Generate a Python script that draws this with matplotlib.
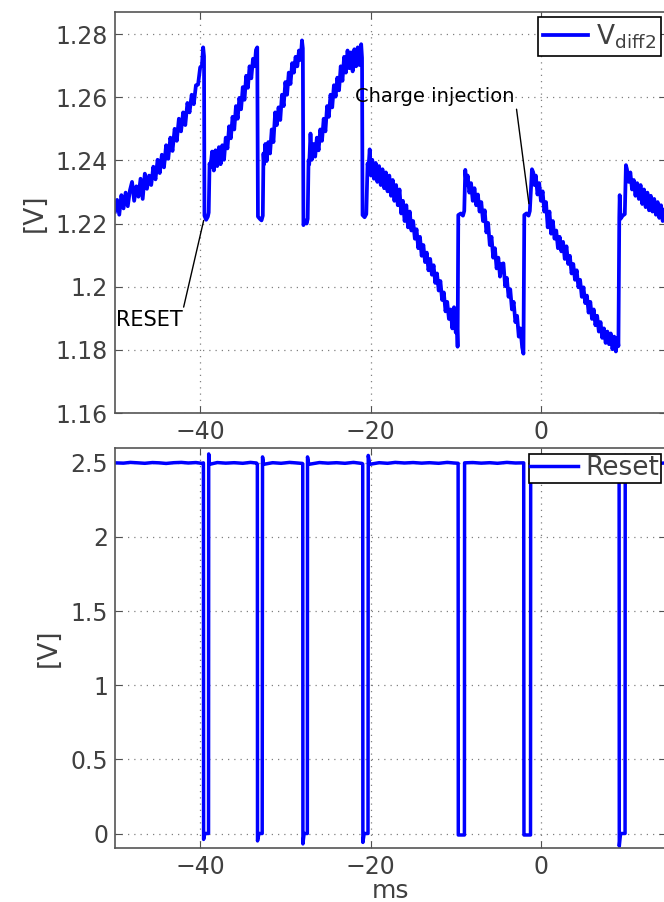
import numpy as np
import matplotlib
matplotlib.use('Agg')
import matplotlib.pyplot as plt
from matplotlib.ticker import FormatStrFormatter, MultipleLocator

# V_diff2 trace (time in ms, value in V)
seg1_t = [-50.0, -49.75, -49.5, -49.25, -49.0, -48.75, -48.5, -48.25, -48.0, -47.75,
          -47.5, -47.25, -47.0, -46.75, -46.5, -46.25, -46.0, -45.75, -45.5, -45.25,
          -45.0, -44.75, -44.5, -44.25, -44.0, -43.75, -43.5, -43.25, -43.0, -42.75,
          -42.5, -42.25, -42.0, -41.75, -41.5, -41.25, -41.0, -40.75, -40.5, -40.25,
          -40.0, -39.8, -39.65, -39.55,
          -39.5, -39.3, -39.1, -39.0]
seg1_v = [1.2238, 1.2275, 1.2228, 1.2290, 1.2248, 1.2298, 1.2255, 1.2305, 1.2332, 1.2272,
          1.2318, 1.2285, 1.2342, 1.2278, 1.2358, 1.2310, 1.2352, 1.2322, 1.2380, 1.2340,
          1.2402, 1.2360, 1.2418, 1.2378, 1.2448, 1.2405, 1.2472, 1.2430, 1.2500, 1.2462,
          1.2532, 1.2492, 1.2552, 1.2512, 1.2582, 1.2552, 1.2608, 1.2578, 1.2638, 1.2640,
          1.2695, 1.2700, 1.2758, 1.2730,
          1.2225, 1.2212, 1.2222, 1.2235]

seg2_t = [-38.9, -38.8, -38.6, -38.4, -38.2, -38.0, -37.8, -37.6, -37.4, -37.2,
          -37.0, -36.8, -36.6, -36.4, -36.2, -36.0, -35.8, -35.6, -35.4, -35.2,
          -35.0, -34.8, -34.6, -34.4, -34.2, -34.0, -33.8, -33.6, -33.45, -33.3,
          -33.22, -33.0, -32.8, -32.65]
seg2_v = [1.2390, 1.2378, 1.2428, 1.2368, 1.2432, 1.2382, 1.2442, 1.2388, 1.2448, 1.2402,
          1.2472, 1.2438, 1.2508, 1.2470, 1.2538, 1.2498, 1.2572, 1.2532, 1.2598, 1.2562,
          1.2632, 1.2592, 1.2668, 1.2630, 1.2698, 1.2660, 1.2722, 1.2698, 1.2750, 1.2758,
          1.2222, 1.2215, 1.2210, 1.2225]

seg3_t = [-32.57, -32.5, -32.35, -32.2, -32.0, -31.8, -31.6, -31.4, -31.2, -31.0,
          -30.8, -30.6, -30.4, -30.2, -30.0, -29.8, -29.6, -29.4, -29.2, -29.0,
          -28.8, -28.6, -28.4, -28.2, -28.05, -27.95,
          -27.88, -27.7, -27.5, -27.38]
seg3_v = [1.2422, 1.2388, 1.2452, 1.2398, 1.2458, 1.2422, 1.2498, 1.2458, 1.2552, 1.2512,
          1.2568, 1.2528, 1.2608, 1.2572, 1.2648, 1.2608, 1.2678, 1.2642, 1.2708, 1.2678,
          1.2728, 1.2698, 1.2748, 1.2718, 1.2780, 1.2755,
          1.2195, 1.2210, 1.2200, 1.2215]

seg4_t = [-27.28, -27.2, -27.05, -26.9, -26.7, -26.5, -26.3, -26.1, -25.9, -25.7,
          -25.5, -25.3, -25.1, -24.9, -24.7, -24.5, -24.3, -24.1, -23.9, -23.7,
          -23.5, -23.3, -23.1, -22.9, -22.7, -22.5, -22.3, -22.1, -21.9, -21.7,
          -21.5, -21.3, -21.1, -21.0,
          -20.94, -20.7, -20.5]
seg4_v = [1.2400, 1.2388, 1.2485, 1.2402, 1.2452, 1.2412, 1.2472, 1.2432, 1.2498, 1.2462,
          1.2532, 1.2492, 1.2572, 1.2538, 1.2608, 1.2568, 1.2638, 1.2602, 1.2662, 1.2622,
          1.2698, 1.2652, 1.2728, 1.2678, 1.2748, 1.2692, 1.2742, 1.2682, 1.2752, 1.2698,
          1.2758, 1.2702, 1.2768, 1.2725,
          1.2227, 1.2220, 1.2230]

seg5_t = [-20.35, -20.25, -20.1, -19.95, -19.8, -19.6, -19.4, -19.2, -19.0, -18.8,
          -18.6, -18.4, -18.2, -18.0, -17.8, -17.6, -17.4, -17.2, -17.0, -16.8,
          -16.6, -16.4, -16.2, -16.0, -15.8, -15.6, -15.4, -15.2, -15.0, -14.8,
          -14.6, -14.4, -14.2, -14.0, -13.8, -13.6, -13.4, -13.2, -13.0, -12.8,
          -12.6, -12.4, -12.2, -12.0, -11.8, -11.6, -11.4, -11.2, -11.0, -10.8,
          -10.6, -10.4, -10.2, -10.0, -9.85, -9.78,
          -9.7, -9.4, -9.15, -9.0]
seg5_v = [1.2390, 1.2372, 1.2435, 1.2352, 1.2402, 1.2342, 1.2392, 1.2332, 1.2382, 1.2322,
          1.2372, 1.2312, 1.2362, 1.2302, 1.2352, 1.2288, 1.2338, 1.2272, 1.2322, 1.2258,
          1.2308, 1.2232, 1.2272, 1.2208, 1.2258, 1.2188, 1.2238, 1.2178, 1.2208, 1.2152,
          1.2182, 1.2122, 1.2158, 1.2098, 1.2132, 1.2078, 1.2108, 1.2052, 1.2088, 1.2038,
          1.2068, 1.2012, 1.2042, 1.1988, 1.2018, 1.1958, 1.1982, 1.1922, 1.1952, 1.1898,
          1.1928, 1.1868, 1.1935, 1.1855, 1.1880, 1.1810,
          1.2227, 1.2232, 1.2225, 1.2240]

seg6_t = [-8.88, -8.75, -8.6, -8.4, -8.2, -8.0, -7.8, -7.6, -7.4, -7.2,
          -7.0, -6.8, -6.6, -6.4, -6.2, -6.0, -5.8, -5.6, -5.4, -5.2,
          -5.0, -4.8, -4.6, -4.4, -4.2, -4.0, -3.8, -3.6, -3.4, -3.2,
          -3.0, -2.8, -2.6, -2.4, -2.2, -2.05,
          -1.95, -1.7, -1.45, -1.3]
seg6_v = [1.2370, 1.2322, 1.2352, 1.2298, 1.2328, 1.2272, 1.2312, 1.2258, 1.2292, 1.2238,
          1.2268, 1.2208, 1.2242, 1.2172, 1.2202, 1.2132, 1.2158, 1.2092, 1.2122, 1.2058,
          1.2092, 1.2032, 1.2072, 1.2074, 1.2002, 1.2028, 1.1968, 1.1992, 1.1928, 1.1952,
          1.1888, 1.1908, 1.1842, 1.1868, 1.1808, 1.1788,
          1.2227, 1.2232, 1.2225, 1.2240]

seg7_t = [-1.05, -0.9, -0.75, -0.6, -0.4, -0.2, 0.0, 0.2, 0.4, 0.6,
          0.8, 1.0, 1.2, 1.4, 1.6, 1.8, 2.0, 2.2, 2.4, 2.6,
          2.8, 3.0, 3.2, 3.4, 3.6, 3.8, 4.0, 4.2, 4.4, 4.6,
          4.8, 5.0, 5.2, 5.4, 5.6, 5.8, 6.0, 6.2, 6.4, 6.6,
          6.8, 7.0, 7.2, 7.4, 7.6, 7.8, 8.0, 8.2, 8.4, 8.6,
          8.8, 9.0, 9.1,
          9.2, 9.25, 9.35, 9.6, 9.85]
seg7_v = [1.2372, 1.2362, 1.2322, 1.2352, 1.2292, 1.2328, 1.2272, 1.2302, 1.2238, 1.2268,
          1.2188, 1.2238, 1.2168, 1.2208, 1.2152, 1.2178, 1.2122, 1.2158, 1.2112, 1.2142,
          1.2088, 1.2128, 1.2072, 1.2098, 1.2042, 1.2072, 1.2022, 1.2052, 1.1998, 1.2022,
          1.1968, 1.1998, 1.1948, 1.1972, 1.1918, 1.1952, 1.1898, 1.1928, 1.1878, 1.1908,
          1.1858, 1.1888, 1.1838, 1.1868, 1.1822, 1.1858, 1.1818, 1.1852, 1.1802, 1.1842,
          1.1795, 1.1838, 1.1812,
          1.2220, 1.2290, 1.2215, 1.2225, 1.2230]

seg8_t = [9.98, 10.1, 10.3, 10.5, 10.7, 10.9, 11.1, 11.3, 11.5, 11.7,
          11.9, 12.1, 12.3, 12.5, 12.7, 12.9, 13.1, 13.3, 13.5, 13.7,
          13.9, 14.1, 14.3, 14.5, 14.8]
seg8_v = [1.2385, 1.2372, 1.2332, 1.2362, 1.2308, 1.2338, 1.2288, 1.2328, 1.2278, 1.2322,
          1.2262, 1.2308, 1.2252, 1.2298, 1.2242, 1.2288, 1.2238, 1.2278, 1.2228, 1.2268,
          1.2218, 1.2258, 1.2208, 1.2245, 1.2225]

# Reset signal (ms, V)
reset_t = [-50.0, -49.0, -48.2, -47.3, -46.5, -45.6, -44.8, -44.0, -43.1, -42.2,
           -41.4, -40.5, -39.75, -39.62,
           -39.6, -39.45, -39.1, -39.02, -39.0, -38.9,
           -38.0, -37.0, -36.0, -35.0, -34.1, -33.4, -33.29,
           -33.27, -33.1, -32.72, -32.68, -32.55,
           -31.5, -30.5, -29.5, -28.6, -28.0, -27.96,
           -27.94, -27.8, -27.42, -27.4, -27.25,
           -26.0, -25.0, -24.0, -23.0, -22.0, -21.0, -20.92,
           -20.9, -20.75, -20.3, -20.27, -20.1,
           -19.0, -18.0, -17.1, -16.0, -15.0, -14.0, -13.1, -12.0, -11.0, -10.2, -9.72,
           -9.7, -9.5, -8.98, -8.96,
           -8.0, -7.0, -6.0, -5.1, -4.0, -3.0, -2.02,
           -1.99, -1.8, -1.22, -1.2,
           -0.5, 0.5, 1.5, 2.5, 3.5, 4.5, 5.5, 6.5, 7.5, 8.5, 9.18,
           9.2, 9.35, 9.88, 9.9, 10.0,
           11.0, 12.0, 13.0, 14.0, 14.8]
reset_v = [2.500, 2.498, 2.503, 2.500, 2.497, 2.502, 2.500, 2.496, 2.501, 2.503,
           2.499, 2.502, 2.496, 2.500,
           -0.04, 0.00, 0.00, 0.00, 2.56, 2.49,
           2.502, 2.498, 2.501, 2.497, 2.503, 2.499, 2.492,
           -0.05, 0.00, 0.00, 2.54, 2.49,
           2.501, 2.497, 2.503, 2.499, 2.496, 2.492,
           -0.07, 0.00, 0.00, 2.54, 2.49,
           2.502, 2.498, 2.501, 2.497, 2.503, 2.496, 2.492,
           -0.06, 0.00, 0.00, 2.55, 2.49,
           2.501, 2.497, 2.503, 2.499, 2.502, 2.498, 2.501, 2.497, 2.503, 2.499, 2.497,
           -0.01, -0.01, -0.01, 2.50,
           2.502, 2.498, 2.501, 2.497, 2.503, 2.499, 2.500,
           -0.01, -0.01, -0.01, 2.50,
           2.502, 2.498, 2.501, 2.497, 2.503, 2.499, 2.501, 2.497, 2.502, 2.498, 2.500,
           -0.085, 0.00, 0.00, 2.55, 2.49,
           2.502, 2.498, 2.501, 2.497, 2.500]

vdiff_t = np.concatenate([seg1_t, seg2_t, seg3_t, seg4_t, seg5_t, seg6_t, seg7_t, seg8_t])
vdiff_v = np.concatenate([seg1_v, seg2_v, seg3_v, seg4_v, seg5_v, seg6_v, seg7_v, seg8_v])

TXT = '#404040'
plt.rcParams['font.family'] = 'DejaVu Sans'
plt.rcParams['mathtext.default'] = 'regular'

fig = plt.figure(figsize=(6.64, 9.02), dpi=100)
ax1 = fig.add_axes([0.1732, 0.5421, 0.830, 0.4446])
ax2 = fig.add_axes([0.1732, 0.0595, 0.830, 0.4438])

ax1.plot(vdiff_t, vdiff_v, color='blue', lw=2.7, label=r'V$_{diff2}$')
ax2.plot(reset_t, reset_v, color='blue', lw=2.5, label='Reset')

ax1.set_ylim(1.16, 1.287)
ax2.set_ylim(-0.1, 2.6)
ax1.yaxis.set_major_locator(MultipleLocator(0.02))
ax2.yaxis.set_major_locator(MultipleLocator(0.5))

for ax in (ax1, ax2):
    ax.set_xlim(-50, 14.7)
    ax.xaxis.set_major_locator(MultipleLocator(20))
    ax.yaxis.set_major_formatter(FormatStrFormatter('%g'))
    ax.grid(True, linestyle=(0, (1, 4)), color='#808080', linewidth=0.9)
    ax.tick_params(direction='in', length=5, width=0.8, labelsize=17,
                   colors='#505050', labelcolor=TXT, top=True, right=True, pad=5)
    for s in ax.spines.values():
        s.set_color('#555555')
        s.set_linewidth(1.2)
    ax.set_ylabel('[V]', fontsize=19, color=TXT, labelpad=6)

ax2.set_xlabel('ms', fontsize=18, color=TXT, labelpad=0)

leg1 = ax1.legend(loc='upper right', bbox_to_anchor=(0.9955, 0.9812),
                  bbox_transform=fig.transFigure, fontsize=19, fancybox=False,
                  edgecolor='black', handlelength=1.7, borderpad=0.2,
                  handletextpad=0.3, borderaxespad=0)
leg2 = ax2.legend(loc='upper right', bbox_to_anchor=(0.9955, 0.4967),
                  bbox_transform=fig.transFigure, fontsize=19, fancybox=False,
                  edgecolor='black', handlelength=1.8, borderpad=0.05,
                  handletextpad=0.3, borderaxespad=0)
for leg in (leg1, leg2):
    leg.get_frame().set_linewidth(1.2)
    leg.get_frame().set_alpha(1)
    for t in leg.get_texts():
        t.set_color(TXT)

ax1.annotate('RESET', xy=(-39.59, 1.2210), xytext=(-42.1, 1.1895),
             fontsize=15, ha='right', va='center', color='black',
             arrowprops=dict(arrowstyle='-', color='black', lw=1,
                             shrinkA=0, shrinkB=0, relpos=(1, 0.85)))
ax1.annotate('Charge injection', xy=(-1.41, 1.2263), xytext=(-3.05, 1.2601),
             fontsize=14, ha='right', va='center', color='black',
             arrowprops=dict(arrowstyle='-', color='black', lw=1,
                             shrinkA=0, shrinkB=0, relpos=(1, 0.5)))

fig.savefig('out.png', dpi=100)
